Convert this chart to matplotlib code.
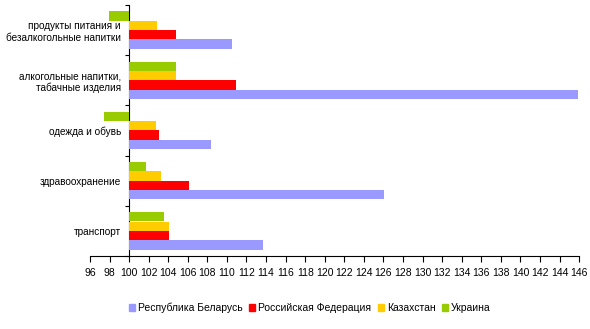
import matplotlib
matplotlib.use("Agg")
import matplotlib.pyplot as plt
import numpy as np
from matplotlib.patches import Patch

plt.rcParams['font.family'] = ['Liberation Sans', 'DejaVu Sans']

categories = [
    "продукты питания и\nбезалкогольные напитки",
    "алкогольные напитки,\nтабачные изделия",
    "одежда и обувь",
    "здравоохранение",
    "транспорт",
]
series_names = ["Республика Беларусь", "Российская Федерация", "Казахстан", "Украина"]
belarus = [110.5, 145.9, 108.4, 126.1, 113.7]
russia = [104.8, 110.9, 103.1, 106.1, 104.1]
kazakhstan = [102.9, 104.8, 102.7, 103.3, 104.1]
ukraine = [97.9, 104.8, 97.4, 101.7, 103.6]
xticks = list(range(96, 147, 2))

colors = ['#9999FF', '#FF0000', '#FFCC00', '#99CC00']
BASE = 100

fig = plt.figure(figsize=(5.9, 3.29), dpi=100)
ax = fig.add_axes([0.1525, 0.222, 0.829, 0.763])

y = np.arange(len(categories))
h = 0.186
offsets = [0.28, 0.093, -0.093, -0.28]  # blue bottom, green top
for vals, off, c in zip([belarus, russia, kazakhstan, ukraine], offsets, colors):
    v = np.array(vals)
    ax.barh(y + off, v - BASE, left=BASE, height=h, color=c, zorder=3)

ax.set_ylim(len(categories) - 0.5, -0.5)
ax.set_xlim(96, 146)
ax.set_yticks(np.arange(-0.5, len(categories), 1.0), minor=True)
ax.tick_params(axis='y', which='major', length=0, pad=6, labelsize=7.2)
ax.tick_params(axis='y', which='minor', length=3, direction='out', width=0.8)
ax.tick_params(axis='x', length=4, direction='out', width=0.8, pad=5, labelsize=7.5)
ax.set_xticks(xticks)
ax.set_xticklabels([str(t) for t in xticks])
ax.set_yticks(y)
ax.set_yticklabels(categories, linespacing=1.45)

ax.spines['top'].set_visible(False)
ax.spines['right'].set_visible(False)
ax.spines['left'].set_position(('data', BASE))
for s in ['left', 'bottom']:
    ax.spines[s].set_linewidth(0.8)

handles = [Patch(color=c, label=n) for c, n in zip(colors, series_names)]
fig.legend(handles=handles, loc='center', bbox_to_anchor=(0.525, 0.064), ncol=4,
           frameon=False, fontsize=7.5, handlelength=0.6, handleheight=0.6,
           handletextpad=0.3, columnspacing=0.6)

fig.savefig("out.png", dpi=100)
